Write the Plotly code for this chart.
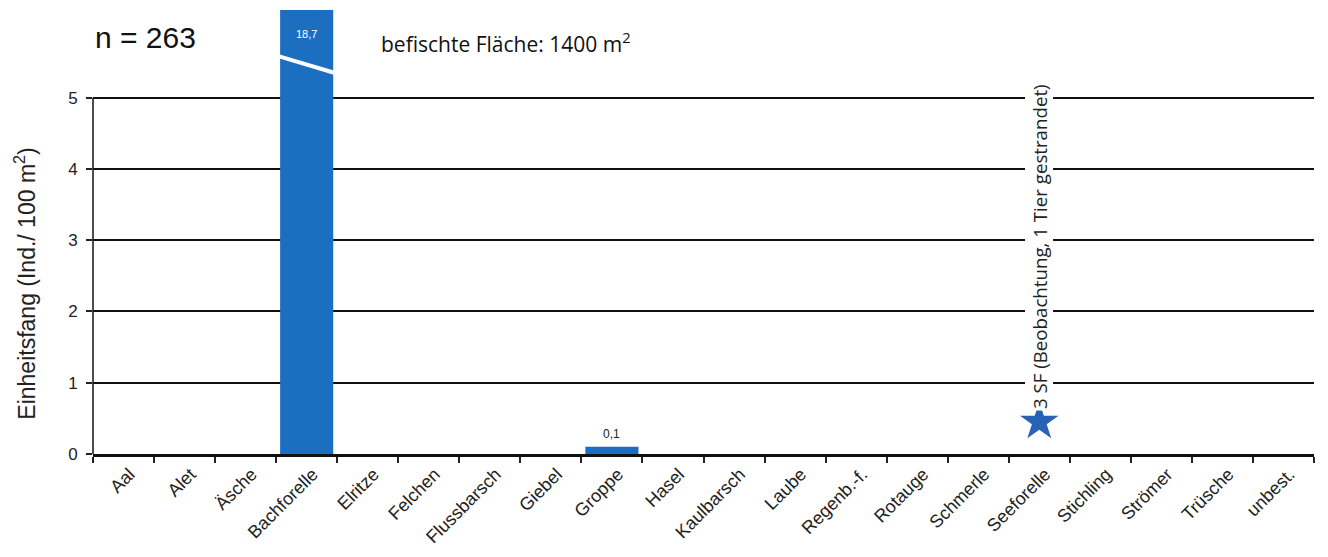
import plotly.graph_objects as go

# Fish species and catch per unit effort (individuals per 100 m²)
species = ["Aal", "Alet", "Äsche", "Bachforelle", "Elritze", "Felchen", "Flussbarsch",
           "Giebel", "Groppe", "Hasel", "Kaulbarsch", "Laube", "Regenb.-f.", "Rotauge",
           "Schmerle", "Seeforelle", "Stichling", "Strömer", "Trüsche", "unbest."]
cpue = [0, 0, 0, 18.7, 0, 0, 0, 0, 0.1, 0, 0, 0, 0, 0, 0, 0, 0, 0, 0, 0]
value_labels = ["", "", "", "18,7", "", "", "", "", "0,1", "", "", "", "", "", "", "", "", "", "", ""]

# Observed-only species (marked with a star)
obs_species = ["Seeforelle"]
obs_y = [0.45]
obs_note = "3 SF (Beobachtung, 1 Tier gestrandet)"

y_ticks = [0, 1, 2, 3, 4, 5]
y_top = 6.23

BLUE = "#1c6ec1"

fig = go.Figure()

fig.add_trace(go.Bar(
    x=species, y=cpue, width=0.87,
    marker=dict(color=BLUE, line=dict(width=0)),
    showlegend=False, cliponaxis=True,
))

fig.add_trace(go.Scatter(
    x=obs_species, y=obs_y, mode="markers",
    marker=dict(symbol="star", size=29, color="#2862b4", line=dict(width=0)),
    showlegend=False,
))

annotations = []
for sp, v, lab in zip(species, cpue, value_labels):
    if not lab:
        continue
    if v > y_top:
        # clipped bar: label inside the top of the bar
        annotations.append(dict(x=sp, y=y_top, yanchor="top", yshift=-16, text=lab,
                                showarrow=False, font=dict(family="Arial", size=11, color="white")))
    else:
        annotations.append(dict(x=sp, y=v, yanchor="bottom", yshift=4, text=lab,
                                showarrow=False, font=dict(family="Arial", size=12, color="#222")))

annotations += [
    dict(x=obs_species[0], y=0.6, yanchor="bottom", text=obs_note, textangle=-90,
         showarrow=False, bgcolor="white", borderpad=1,
         font=dict(family="Open Sans", size=18.7, color="#222")),
    dict(xref="paper", yref="paper", x=0, xshift=0, y=1, yshift=-27, xanchor="left", yanchor="middle",
         text="n = 263", showarrow=False,
         font=dict(family="Arial", size=30, color="#111")),
    dict(xref="paper", yref="paper", x=0.234, y=1, yshift=-32, xanchor="left", yanchor="middle",
         text="befischte Fläche: 1400 m<sup>2</sup>", showarrow=False,
         font=dict(family="Open Sans", size=21, color="#111")),
    dict(xref="paper", yref="y", x=0, xshift=-68, y=2.39, xanchor="center", yanchor="middle",
         text="Einheitsfang (Ind./ 100 m<sup>2</sup>)", textangle=-90, showarrow=False,
         font=dict(family="Arial", size=23, color="#222")),
]

# white slash marking the axis break on the tall bar
bi = species.index("Bachforelle")
shapes = [dict(type="line", xref="x", yref="y", x0=bi - 0.45, x1=bi + 0.45, y0=5.58, y1=5.35,
               line=dict(color="white", width=4))]

fig.update_layout(
    width=1328, height=557,
    margin=dict(l=93, r=14, t=10, b=101),
    paper_bgcolor="white", plot_bgcolor="white",
    annotations=annotations, shapes=shapes,
    xaxis=dict(
        type="category", range=[-0.5, len(species) - 0.5],
        tickson="boundaries", ticks="outside", ticklen=6, tickcolor="#222", tickwidth=1.5,
        tickangle=-45, tickfont=dict(family="Arial", size=18, color="#222"),
        ticklabelshift=6,
        showgrid=False, showline=True, linecolor="#111", linewidth=2.5,
        zeroline=False, fixedrange=True,
    ),
    yaxis=dict(
        range=[0, y_top], tickvals=y_ticks, ticktext=[str(t) for t in y_ticks],
        ticks="outside", ticklen=6, tickcolor="#222", tickwidth=1.5,
        tickfont=dict(family="Arial", size=17, color="#222"),
        ticklabelstandoff=5,
        showgrid=True, gridcolor="#111", gridwidth=1.8,
        zeroline=False, showline=False, fixedrange=True,
    ),
)

# left axis line only between 0 and 5
fig.add_shape(type="line", xref="paper", yref="y", x0=0, x1=0, y0=0, y1=5,
              line=dict(color="#111", width=1.5), layer="above")

fig.write_html("out.html")
